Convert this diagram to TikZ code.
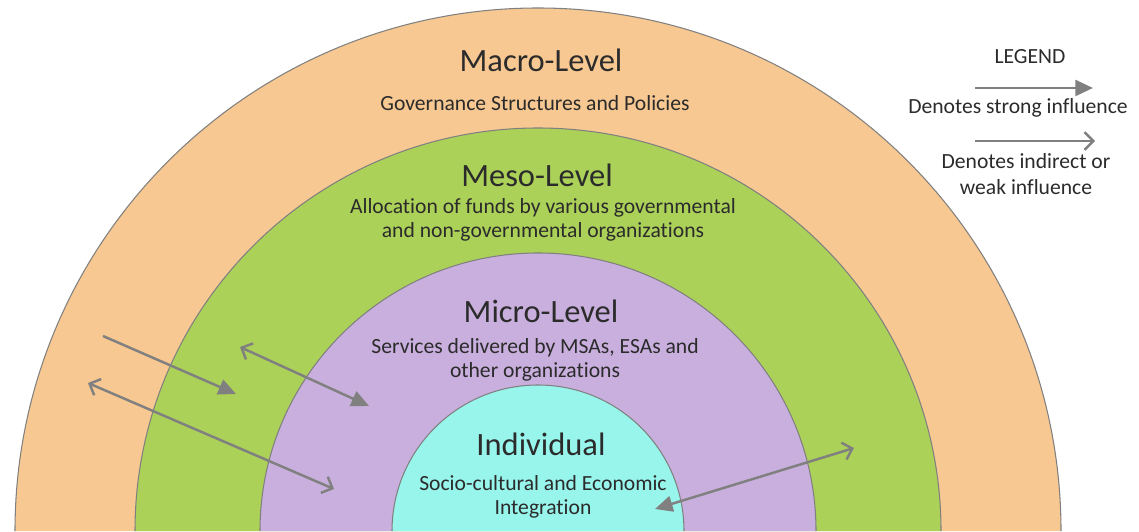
\documentclass[tikz,border=0pt]{standalone}
\usepackage{fontspec}
\setmainfont{Carlito}[Ligatures=NoCommon]
\usepackage{xcolor}
\usetikzlibrary{arrows.meta,positioning}

\definecolor{macrocol}{HTML}{F7C891}
\definecolor{mesocol}{HTML}{ACD159}
\definecolor{microcol}{HTML}{C9AFDD}
\definecolor{indivcol}{HTML}{98F5EC}
\definecolor{arrowgray}{HTML}{808080}
\definecolor{textgray}{HTML}{2B2B2B}

\tikzset{
  lvltitle/.style={font=\fontsize{18.5}{21}\selectfont, text=textgray},
  desc/.style={font=\fontsize{12.3}{13.6}\selectfont, text=textgray, align=center},
  strongarr/.style={draw=arrowgray, line width=1.4pt, -{Triangle[length=10pt,width=9pt]}},
  weakarr/.style={draw=arrowgray, line width=1.4pt, -{Straight Barb[length=5pt,width=10pt]}},
}

\begin{document}
\begin{tikzpicture}[x=0.02cm, y=0.02cm]
    \useasboundingbox (0,0) rectangle (1139,531);

    % Niveaux (demi-cercles)
    \foreach \r/\col in {523/macrocol, 403/mesocol, 278/microcol, 146/indivcol} {
        \fill[\col] (538-\r,0) arc[start angle=180, end angle=0, radius=\r] -- cycle;
        \draw[arrowgray, line width=0.6pt] (538-\r,0) arc[start angle=180, end angle=0, radius=\r];
    }

    % Textes
    \node[lvltitle] (macro) at (541,471) {Macro-Level};
    \node[desc] (gov) at (535,428) {Governance Structures and Policies};
    \node[lvltitle] (meso) at (537,356) {Meso-Level};
    \node[desc] (alloc) at (543,311) {Allocation of funds by various governmental\\and non-governmental organizations};
    \node[lvltitle] (micro) at (541,220) {Micro-Level};
    \node[desc] (serv) at (535,171.5) {Services delivered by MSAs, ESAs and\\other organizations};
    \node[lvltitle] (indiv) at (541,87) {Individual};
    \node[desc] (socio) at (543,34) {Socio-cultural and Economic\\Integration};

    % Fleches
    \coordinate (a1) at (103,195);
    \coordinate (b1) at (236,137);
    \coordinate (a2) at (240,184);
    \coordinate (b2) at (369,125);
    \coordinate (a3) at (88,148);
    \coordinate (b3) at (334,42);
    \coordinate (a4) at (854,83);
    \coordinate (b4) at (655,22);
    \draw[strongarr] (a1) -- (b1);
    \draw[strongarr, {Straight Barb[length=5pt,width=10pt]}-{Triangle[length=10pt,width=9pt]}] (a2) -- (b2);
    \draw[weakarr, {Straight Barb[length=5pt,width=10pt]}-{Straight Barb[length=5pt,width=10pt]}] (a3) -- (b3);
    \draw[strongarr, {Straight Barb[length=5pt,width=10pt]}-{Triangle[length=10pt,width=9pt]}] (a4) -- (b4);

    % Legende
    \node[desc] (legend) at (1030,474) {LEGEND};
    \coordinate (ls1) at (975,443);
    \coordinate (le1) at (1093,443);
    \draw[strongarr] (ls1) -- (le1);
    \node[desc] (lstrong) at (1018,423) {Denotes strong influence};
    \coordinate (ls2) at (975,390);
    \coordinate (le2) at (1095,390);
    \draw[weakarr] (ls2) -- (le2);
    \node[desc, font=\fontsize{12.3}{14.7}\selectfont] (lweak) at (1026,357) {Denotes indirect or\\weak influence};
\end{tikzpicture}
\end{document}
